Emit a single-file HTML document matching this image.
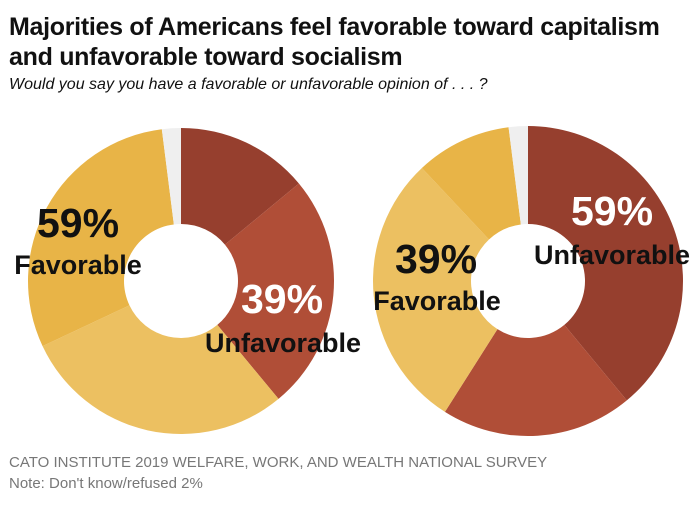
<!DOCTYPE html>
<html><head><meta charset="utf-8">
<style>
body{margin:0;background:#fff;font-family:"Liberation Sans",sans-serif;}
#wrap{position:relative;width:700px;height:505px;overflow:hidden;}
.t{position:absolute;white-space:nowrap;}
</style></head>
<body>
<div id="wrap">
<div class="t" style="left:9px;top:12px;font-size:25px;font-weight:bold;color:#111;line-height:30px;letter-spacing:-0.3px">Majorities of Americans feel favorable toward capitalism<br>and unfavorable toward socialism</div>
<div class="t" style="left:9px;top:76px;font-size:16px;font-style:italic;color:#111">Would you say you have a favorable or unfavorable opinion of . . . ?</div>
<svg id="chart" width="700" height="505" style="position:absolute;left:0;top:0"></svg>
<div class="t" style="left:9px;top:454px;font-size:15px;color:#777">CATO INSTITUTE 2019 WELFARE, WORK, AND WEALTH NATIONAL SURVEY</div>
<div class="t" style="left:9px;top:475px;font-size:15px;color:#777">Note: Don't know/refused 2%</div>
</div>
<script>
const categories = ["Very unfavorable","Somewhat unfavorable","Somewhat favorable","Very favorable","Don't know"];
const capitalismValues = [14,25,29,30,2];
const socialismValues = [39,20,29,10,2];
const colors = ["#963f2e","#b04e37","#ecc061","#e8b447","#efefef"];
const NS="http://www.w3.org/2000/svg";
const svg=document.getElementById('chart');
function pt(cx,cy,r,frac){const a=frac*2*Math.PI;return [cx+r*Math.sin(a),cy-r*Math.cos(a)];}
function donut(cx,cy,R,r,vals,name){
  const total=vals.reduce((a,b)=>a+b,0);let acc=0;
  vals.forEach((v,i)=>{
    const f0=acc/total,f1=(acc+v)/total;acc+=v;
    const [x0,y0]=pt(cx,cy,R,f0),[x1,y1]=pt(cx,cy,R,f1),[x2,y2]=pt(cx,cy,r,f1),[x3,y3]=pt(cx,cy,r,f0);
    const large=(f1-f0)>0.5?1:0;
    const p=document.createElementNS(NS,'path');
    p.setAttribute('d',`M${x0},${y0}A${R},${R} 0 ${large} 1 ${x1},${y1}L${x2},${y2}A${r},${r} 0 ${large} 0 ${x3},${y3}Z`);
    p.setAttribute('fill',colors[i]);
    
    
    svg.appendChild(p);
  });
}
donut(181,281,153,57,capitalismValues,'capitalism');
donut(528,281,155,57,socialismValues,'socialism');
function label(x,y,txt,size,fill,name){
  const t=document.createElementNS(NS,'text');
  t.setAttribute('x',x);t.setAttribute('y',y);t.setAttribute('text-anchor','middle');
  t.setAttribute('font-size',size);t.setAttribute('font-weight','bold');t.setAttribute('fill',fill);
  t.setAttribute('font-family','Liberation Sans, sans-serif');
  t.textContent=txt;
  
  
  svg.appendChild(t);
}
const capFav=capitalismValues[2]+capitalismValues[3], capUnf=capitalismValues[0]+capitalismValues[1];
const socFav=socialismValues[2]+socialismValues[3], socUnf=socialismValues[0]+socialismValues[1];
label(78,237,capFav+'%',41,'#111','capitalism-favorable-pct');
label(78,274,'Favorable',27,'#111','capitalism-favorable-label');
label(282,313,capUnf+'%',41,'#fff','capitalism-unfavorable-pct');
label(283,352,'Unfavorable',27,'#111','capitalism-unfavorable-label');
label(436,273,socFav+'%',41,'#111','socialism-favorable-pct');
label(437,310,'Favorable',27,'#111','socialism-favorable-label');
label(612,225,socUnf+'%',41,'#fff','socialism-unfavorable-pct');
label(612,264,'Unfavorable',27,'#111','socialism-unfavorable-label');
</script>
</body></html>
